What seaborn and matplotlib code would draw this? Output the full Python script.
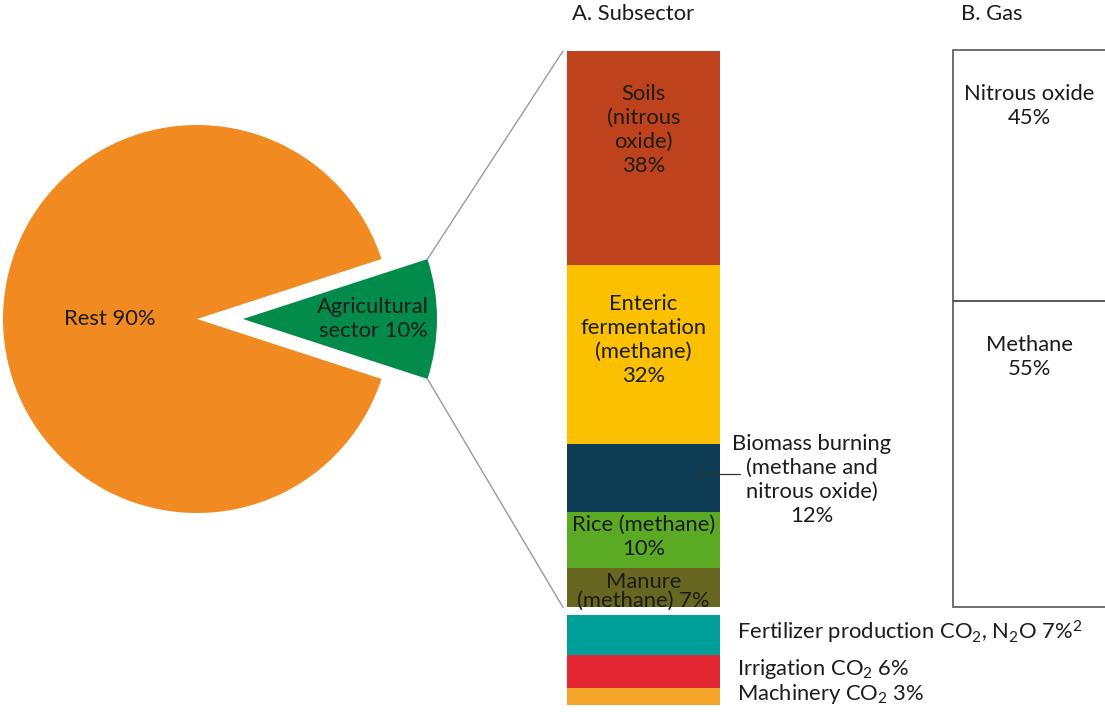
import numpy as np
import matplotlib
matplotlib.use("Agg")
import matplotlib.pyplot as plt
from matplotlib.patches import ConnectionPatch
import seaborn as sns

# ---- data -------------------------------------------------------------
pie_labels = ["Agricultural\nsector 10%", "Rest 90%"]
pie_values = [10, 90]
pie_colors = ["#028B4A", "#F08A21"]

sub_labels = [
    "Soils\n(nitrous\noxide)\n38%",
    "Enteric\nfermentation\n(methane)\n32%",
    "Biomass burning\n(methane and\nnitrous oxide)\n12%",
    "Rice (methane)\n10%",
    "Manure\n(methane) 7%",
]
sub_values = [38, 32, 12, 10, 7]
sub_colors = ["#BE431C", "#FBC100", "#0F3D55", "#5BAA24", "#686722"]

extra_labels = [
    "Fertilizer production CO$_2$, N$_2$O 7%$^2$",
    "Irrigation CO$_2$ 6%",
    "Machinery CO$_2$ 3%",
]
extra_values = [7, 6, 3]
extra_colors = ["#009F9A", "#E32733", "#F5A42A"]

gas_labels = ["Nitrous oxide\n45%", "Methane\n55%"]
gas_values = [45, 55]

# ---- style ------------------------------------------------------------
sns.set_theme(style="white")
plt.rcParams["font.family"] = ["Lato", "DejaVu Sans"]
plt.rcParams["mathtext.fontset"] = "custom"
plt.rcParams["mathtext.rm"] = "Lato"
plt.rcParams["mathtext.it"] = "Lato:italic"
plt.rcParams["mathtext.bf"] = "Lato:bold"

TXT = "#1c1c1c"
FS = 15.8
W, H = 1105, 712

fig = plt.figure(figsize=(W / 100, H / 100), dpi=100)

# ---- pie --------------------------------------------------------------
ax_pie = fig.add_axes([0, 0, 560 / W, 1])
pie_r = 194  # px per unit
cx, cy = 197, H - 319
wedges, _ = ax_pie.pie(pie_values, colors=pie_colors, startangle=-18,
                       explode=[0.237, 0], radius=1, counterclock=True,
                       wedgeprops=dict(linewidth=0))
ax_pie.set_xlim(-cx / pie_r, (560 - cx) / pie_r)
ax_pie.set_ylim(-cy / pie_r, (H - cy) / pie_r)
ax_pie.set_aspect("auto")
ax_pie.axis("off")

label_r = [0.67, 0.45]
for w, lab, lr in zip(wedges, pie_labels, label_r):
    ang = np.deg2rad((w.theta1 + w.theta2) / 2)
    x0, y0 = w.center
    ax_pie.text(x0 + lr * np.cos(ang), y0 + lr * np.sin(ang), lab,
                ha="center", va="center", fontsize=FS, color=TXT,
                linespacing=1.25)

# ---- subsector stacked bar -------------------------------------------
ax_bar = fig.add_axes([560 / W, 0, (W - 560) / W, 1])
px = 5.62         # px per percent
top_px = 51
bw = 153          # bar width in px
x_left = -0.5 - 7 / bw
ax_bar.set_xlim(x_left, x_left + (W - 560) / bw)
ax_bar.set_ylim((H - top_px) / px, -top_px / px)
ax_bar.axis("off")

sub_bottoms = np.concatenate([[0], np.cumsum(sub_values)[:-1]])
ax_bar.bar(0, sub_values, bottom=sub_bottoms, width=1, color=sub_colors,
           linewidth=0)

label_dy = [-5.0, -2.6, 0.3, -0.6, 0.7]
for i, (lab, v, b, dy) in enumerate(zip(sub_labels, sub_values, sub_bottoms, label_dy)):
    yc = b + v / 2 + dy
    if i == 2:
        ax_bar.text(1.10, yc, lab, ha="center", va="center", fontsize=FS,
                    color=TXT, linespacing=1.25)
        ax_bar.plot([0.34, 0.63], [b + v / 2 - 0.8] * 2, color="#333333", lw=0.9)
    elif i == 4:
        ax_bar.text(0, yc, lab, ha="center", va="center", fontsize=FS,
                    color=TXT, linespacing=0.9)
    else:
        ax_bar.text(0, yc, lab, ha="center", va="center", fontsize=FS,
                    color=TXT, linespacing=1.25)

gap = 1.4
extra_start = sum(sub_values) + gap
extra_bottoms = extra_start + np.concatenate([[0], np.cumsum(extra_values)[:-1]])
ax_bar.bar(0, extra_values, bottom=extra_bottoms, width=1, color=extra_colors,
           linewidth=0)
for lab, v, b in zip(extra_labels, extra_values, extra_bottoms):
    ax_bar.text(0.611, b + v / 2 - 0.4, lab, ha="left", va="center",
                fontsize=FS, color=TXT)

# connector lines from the agricultural wedge to the bar
agri = wedges[0]
ccx, ccy = agri.center
for theta, ybar in [(agri.theta2, 0), (agri.theta1, sum(sub_values))]:
    t = np.deg2rad(theta)
    con = ConnectionPatch(xyA=(ccx + agri.r * np.cos(t), ccy + agri.r * np.sin(t)),
                          coordsA=ax_pie.transData,
                          xyB=(-0.5 - 4 / bw, ybar), coordsB=ax_bar.transData,
                          color="#9a9a9a", lw=1)
    fig.add_artist(con)

# ---- gas box -----------------------------------------------------------
ax_gas = fig.add_axes([953 / W, (H - 607) / H, 153 / W, 557 / H])
ax_gas.set_xlim(-0.5, 0.5)
ax_gas.set_ylim(100, 0)
ax_gas.axis("off")
gas_bottoms = np.concatenate([[0], np.cumsum(gas_values)[:-1]])
ax_gas.bar(0, gas_values, bottom=gas_bottoms, width=1, facecolor="none",
           edgecolor="#555555", linewidth=1.2, clip_on=False)
for lab, b in zip(gas_labels, gas_bottoms):
    ax_gas.text(0.0, b + 6.1, lab, ha="center", va="top", fontsize=FS,
                color=TXT, linespacing=1.25)

# ---- titles ------------------------------------------------------------
fig.text(633 / W, 1 - 14 / H, "A. Subsector", ha="center", va="center",
         fontsize=FS, color=TXT)
fig.text(992 / W, 1 - 14 / H, "B. Gas", ha="center", va="center",
         fontsize=FS, color=TXT)

fig.savefig("out.png", dpi=100)
plt.close(fig)
